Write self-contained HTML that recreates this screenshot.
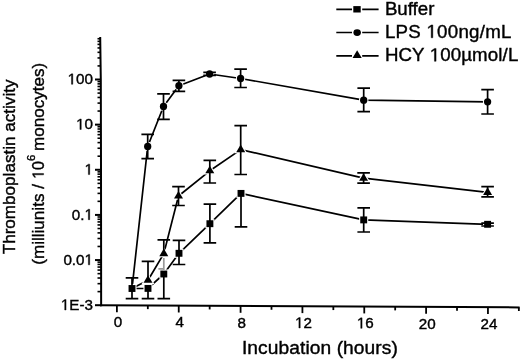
<!DOCTYPE html>
<html><head><meta charset="utf-8"><style>
html,body{margin:0;padding:0;background:#fff;width:520px;height:359px;overflow:hidden}
svg{display:block;filter:blur(0.35px)}
.t text{font-family:"Liberation Sans",sans-serif;white-space:pre}
.t{fill:#000;stroke:#000;stroke-width:0.4px}
</style></head><body>
<svg width="520" height="359" viewBox="0 0 520 359">
<rect width="520" height="359" fill="#fff"/>
<g stroke="#000" fill="none">
<path d="M100.2 37.1 L100.8 80 L101.0 170 L101.15 306.3" stroke-width="2"/>
<path d="M100.10 305.30 L519.60 307.40" stroke-width="2"/>
<path d="M101.15 305.20 H95" stroke-width="2"/>
<path d="M101.13 291.61 H97.5" stroke-width="1.6"/>
<path d="M101.13 283.66 H97.5" stroke-width="1.6"/>
<path d="M101.12 278.02 H97.5" stroke-width="1.6"/>
<path d="M101.11 273.65 H97.5" stroke-width="1.6"/>
<path d="M101.11 270.07 H97.5" stroke-width="1.6"/>
<path d="M101.11 267.05 H97.5" stroke-width="1.6"/>
<path d="M101.10 264.43 H97.5" stroke-width="1.6"/>
<path d="M101.10 262.13 H97.5" stroke-width="1.6"/>
<path d="M101.10 260.06 H95" stroke-width="2"/>
<path d="M101.08 246.47 H97.5" stroke-width="1.6"/>
<path d="M101.08 238.52 H97.5" stroke-width="1.6"/>
<path d="M101.07 232.88 H97.5" stroke-width="1.6"/>
<path d="M101.06 228.51 H97.5" stroke-width="1.6"/>
<path d="M101.06 224.93 H97.5" stroke-width="1.6"/>
<path d="M101.06 221.91 H97.5" stroke-width="1.6"/>
<path d="M101.05 219.29 H97.5" stroke-width="1.6"/>
<path d="M101.05 216.99 H97.5" stroke-width="1.6"/>
<path d="M101.05 214.92 H95" stroke-width="2"/>
<path d="M101.03 201.33 H97.5" stroke-width="1.6"/>
<path d="M101.03 193.38 H97.5" stroke-width="1.6"/>
<path d="M101.02 187.74 H97.5" stroke-width="1.6"/>
<path d="M101.01 183.37 H97.5" stroke-width="1.6"/>
<path d="M101.01 179.79 H97.5" stroke-width="1.6"/>
<path d="M101.01 176.77 H97.5" stroke-width="1.6"/>
<path d="M101.00 174.15 H97.5" stroke-width="1.6"/>
<path d="M101.00 171.85 H97.5" stroke-width="1.6"/>
<path d="M101.00 169.78 H95" stroke-width="2"/>
<path d="M100.97 156.19 H97.5" stroke-width="1.6"/>
<path d="M100.95 148.24 H97.5" stroke-width="1.6"/>
<path d="M100.94 142.60 H97.5" stroke-width="1.6"/>
<path d="M100.93 138.23 H97.5" stroke-width="1.6"/>
<path d="M100.92 134.65 H97.5" stroke-width="1.6"/>
<path d="M100.91 131.63 H97.5" stroke-width="1.6"/>
<path d="M100.91 129.01 H97.5" stroke-width="1.6"/>
<path d="M100.90 126.71 H97.5" stroke-width="1.6"/>
<path d="M100.90 124.64 H95" stroke-width="2"/>
<path d="M100.87 111.05 H97.5" stroke-width="1.6"/>
<path d="M100.85 103.10 H97.5" stroke-width="1.6"/>
<path d="M100.84 97.46 H97.5" stroke-width="1.6"/>
<path d="M100.83 93.09 H97.5" stroke-width="1.6"/>
<path d="M100.82 89.51 H97.5" stroke-width="1.6"/>
<path d="M100.81 86.49 H97.5" stroke-width="1.6"/>
<path d="M100.81 83.87 H97.5" stroke-width="1.6"/>
<path d="M100.80 81.57 H97.5" stroke-width="1.6"/>
<path d="M100.79 79.50 H95" stroke-width="2"/>
<path d="M100.60 65.91 H97.5" stroke-width="1.6"/>
<path d="M100.49 57.96 H97.5" stroke-width="1.6"/>
<path d="M100.41 52.32 H97.5" stroke-width="1.6"/>
<path d="M100.35 47.95 H97.5" stroke-width="1.6"/>
<path d="M100.30 44.37 H97.5" stroke-width="1.6"/>
<path d="M100.26 41.35 H97.5" stroke-width="1.6"/>
<path d="M100.22 38.73 H97.5" stroke-width="1.6"/>
<path d="M116.90 305.38 V312.18" stroke-width="1.8"/>
<path d="M147.82 305.53 V309.13" stroke-width="1.8"/>
<path d="M178.74 305.69 V312.49" stroke-width="1.8"/>
<path d="M209.66 305.84 V309.44" stroke-width="1.8"/>
<path d="M240.58 306.00 V312.80" stroke-width="1.8"/>
<path d="M271.50 306.16 V309.76" stroke-width="1.8"/>
<path d="M302.42 306.31 V313.11" stroke-width="1.8"/>
<path d="M333.34 306.47 V310.07" stroke-width="1.8"/>
<path d="M364.26 306.62 V313.42" stroke-width="1.8"/>
<path d="M395.18 306.78 V310.38" stroke-width="1.8"/>
<path d="M426.10 306.93 V313.73" stroke-width="1.8"/>
<path d="M457.02 307.09 V310.69" stroke-width="1.8"/>
<path d="M487.94 307.24 V314.04" stroke-width="1.8"/>
<path d="M518.86 307.40 V311.00" stroke-width="1.8"/>
</g>
<g class="t">
<text x="60.89" y="310.00" font-size="15.2"> E-3</text><path transform="translate(60.89 310.00) scale(0.00742 -0.00742)" vector-effect="non-scaling-stroke" d="M515 0V1237L197 1010V1180L530 1409H696V0Z"/>
<text x="63.42" y="264.86" font-size="15.2">0.0 </text><path transform="translate(84.55 264.86) scale(0.00742 -0.00742)" vector-effect="non-scaling-stroke" d="M515 0V1237L197 1010V1180L530 1409H696V0Z"/>
<text x="71.87" y="219.72" font-size="15.2">0. </text><path transform="translate(84.55 219.72) scale(0.00742 -0.00742)" vector-effect="non-scaling-stroke" d="M515 0V1237L197 1010V1180L530 1409H696V0Z"/>
<text x="84.55" y="174.58" font-size="15.2"> </text><path transform="translate(84.55 174.58) scale(0.00742 -0.00742)" vector-effect="non-scaling-stroke" d="M515 0V1237L197 1010V1180L530 1409H696V0Z"/>
<text x="76.09" y="129.44" font-size="15.2"> 0</text><path transform="translate(76.09 129.44) scale(0.00742 -0.00742)" vector-effect="non-scaling-stroke" d="M515 0V1237L197 1010V1180L530 1409H696V0Z"/>
<text x="67.64" y="84.30" font-size="15.2"> 00</text><path transform="translate(67.64 84.30) scale(0.00742 -0.00742)" vector-effect="non-scaling-stroke" d="M515 0V1237L197 1010V1180L530 1409H696V0Z"/>
<text x="113.77" y="327.08" font-size="15.2">0</text>
<text x="175.61" y="327.39" font-size="15.2">4</text>
<text x="237.45" y="327.70" font-size="15.2">8</text>
<text x="295.07" y="328.01" font-size="15.2"> 2</text><path transform="translate(295.07 328.01) scale(0.00742 -0.00742)" vector-effect="non-scaling-stroke" d="M515 0V1237L197 1010V1180L530 1409H696V0Z"/>
<text x="356.91" y="328.32" font-size="15.2"> 6</text><path transform="translate(356.91 328.32) scale(0.00742 -0.00742)" vector-effect="non-scaling-stroke" d="M515 0V1237L197 1010V1180L530 1409H696V0Z"/>
<text x="418.75" y="328.63" font-size="15.2">20</text>
<text x="480.59" y="328.94" font-size="15.2">24</text>
<text x="241.90" y="353.90" font-size="19.2" letter-spacing="0.08">Incubation (hours)</text>
<g transform="translate(14.6 254.3) rotate(-90)"><text x="0.00" y="0.00" font-size="17.1">Thromboplastin activity</text></g>
<g transform="translate(43.6 264.8) rotate(-90)"><text x="0.00" y="0.00" font-size="17.1">(milliunits / </text><text x="85.91" y="0.00" font-size="16"> 0</text><path transform="translate(85.91 0.00) scale(0.00781 -0.00781)" vector-effect="non-scaling-stroke" d="M515 0V1237L197 1010V1180L530 1409H696V0Z"/><text x="103.81" y="-8.40" font-size="11.4">6</text><text x="108.95" y="0.00" font-size="17.1"> monocytes)</text></g>
<text x="384.90" y="15.10" font-size="18.7">Buffer</text>
<text x="384.90" y="37.80" font-size="18.7" letter-spacing="0.26">LPS  00ng/mL</text><path transform="translate(426.48 37.80) scale(0.00913 -0.00913)" vector-effect="non-scaling-stroke" d="M515 0V1237L197 1010V1180L530 1409H696V0Z"/>
<text x="384.90" y="61.30" font-size="18.7" letter-spacing="0.12">HCY  00µmol/L</text><path transform="translate(429.72 61.30) scale(0.00913 -0.00913)" vector-effect="non-scaling-stroke" d="M515 0V1237L197 1010V1180L530 1409H696V0Z"/>
</g>
<g stroke="#000" stroke-width="1.6">
<path d="M336.3 9.4 H352 M362.2 9.4 H378.6"/>
<path d="M336.3 32.55 H352 M362.2 32.55 H378.6"/>
<path d="M336.3 55.9 H352 M362.2 55.9 H378.6"/>
</g>
<g fill="#000">
<rect x="353.30" y="6.10" width="7.4" height="6.4"/>
<ellipse cx="357.15" cy="32.55" rx="3.75" ry="3.4"/>
<path d="M357.15 50.33 L361.75 57.93 L352.55 57.93Z"/>
</g>
<g stroke="#000" fill="none" stroke-width="1.7" stroke-linejoin="round">
<path d="M132.00 288.50 L148.00 288.40 L163.80 274.00 L179.00 253.30 L209.90 223.70 L241.00 193.40 L363.70 219.90 L487.60 224.30"/>
<path d="M132.00 288.50 L147.70 146.50 L163.50 106.50 L178.90 85.70 L209.60 74.00 L240.60 78.50 L363.70 100.20 L487.60 101.80"/>
<path d="M132.00 288.50 L148.00 280.30 L163.80 253.60 L178.50 196.00 L209.80 170.80 L240.70 149.60 L363.60 178.20 L487.60 192.40"/>
</g>
<g fill="#000" stroke="#fff" stroke-width="2.2" paint-order="stroke">
<rect x="128.55" y="285.05" width="6.9" height="6.9"/>
<rect x="144.55" y="284.95" width="6.9" height="6.9"/>
<rect x="160.35" y="270.55" width="6.9" height="6.9"/>
<rect x="175.55" y="249.85" width="6.9" height="6.9"/>
<rect x="206.45" y="220.25" width="6.9" height="6.9"/>
<rect x="237.55" y="189.95" width="6.9" height="6.9"/>
<rect x="360.25" y="216.45" width="6.9" height="6.9"/>
<rect x="484.15" y="220.85" width="6.9" height="6.9"/>
<circle cx="147.70" cy="146.50" r="3.65"/>
<circle cx="163.50" cy="106.50" r="3.65"/>
<circle cx="178.90" cy="85.70" r="3.65"/>
<circle cx="209.60" cy="74.00" r="3.65"/>
<circle cx="240.60" cy="78.50" r="3.65"/>
<circle cx="363.70" cy="100.20" r="3.65"/>
<circle cx="487.60" cy="101.80" r="3.65"/>
<path d="M148.00 275.23 L152.50 282.83 L143.50 282.83Z"/>
<path d="M163.80 248.53 L168.30 256.13 L159.30 256.13Z"/>
<path d="M178.50 190.93 L183.00 198.53 L174.00 198.53Z"/>
<path d="M209.80 165.73 L214.30 173.33 L205.30 173.33Z"/>
<path d="M240.70 144.53 L245.20 152.13 L236.20 152.13Z"/>
<path d="M363.60 173.13 L368.10 180.73 L359.10 180.73Z"/>
<path d="M487.60 187.33 L492.10 194.93 L483.10 194.93Z"/>
</g>
<g stroke="#000" fill="none" stroke-width="1.7">
<path d="M132.00 288.50 V277.80 M125.70 277.80 H138.30"/>
<path d="M132.00 288.50 V298.60 M125.70 298.60 H138.30"/>
<path d="M148.00 288.40 V298.70 M141.70 298.70 H154.30"/>
<path d="M163.80 274.00 V298.70 M157.50 298.70 H170.10"/>
<path d="M179.00 253.30 V240.30 M172.70 240.30 H185.30"/>
<path d="M179.00 253.30 V264.50 M172.70 264.50 H185.30"/>
<path d="M209.90 223.70 V204.20 M203.60 204.20 H216.20"/>
<path d="M209.90 223.70 V242.80 M203.60 242.80 H216.20"/>
<path d="M241.00 193.40 V226.80 M234.70 226.80 H247.30"/>
<path d="M363.70 219.90 V207.80 M357.40 207.80 H370.00"/>
<path d="M363.70 219.90 V232.00 M357.40 232.00 H370.00"/>
<path d="M487.60 224.30 V223.20 M481.30 223.20 H493.90"/>
<path d="M487.60 224.30 V226.00 M481.30 226.00 H493.90"/>
<path d="M147.70 146.50 V134.30 M141.40 134.30 H154.00"/>
<path d="M147.70 146.50 V158.60 M141.40 158.60 H154.00"/>
<path d="M163.50 106.50 V93.90 M157.20 93.90 H169.80"/>
<path d="M163.50 106.50 V119.30 M157.20 119.30 H169.80"/>
<path d="M178.90 85.70 V80.30 M172.60 80.30 H185.20"/>
<path d="M178.90 85.70 V91.30 M172.60 91.30 H185.20"/>
<path d="M209.60 74.00 V72.30 M203.30 72.30 H215.90"/>
<path d="M209.60 74.00 V75.40 M203.30 75.40 H215.90"/>
<path d="M240.60 78.50 V69.20 M234.30 69.20 H246.90"/>
<path d="M240.60 78.50 V87.50 M234.30 87.50 H246.90"/>
<path d="M363.70 100.20 V88.10 M357.40 88.10 H370.00"/>
<path d="M363.70 100.20 V111.70 M357.40 111.70 H370.00"/>
<path d="M487.60 101.80 V89.70 M481.30 89.70 H493.90"/>
<path d="M487.60 101.80 V114.00 M481.30 114.00 H493.90"/>
<path d="M148.00 280.30 V261.40 M141.70 261.40 H154.30"/>
<path d="M163.80 253.60 V239.80 M157.50 239.80 H170.10"/>
<path d="M178.50 196.00 V186.70 M172.20 186.70 H184.80"/>
<path d="M178.50 196.00 V205.50 M172.20 205.50 H184.80"/>
<path d="M209.80 170.80 V160.30 M203.50 160.30 H216.10"/>
<path d="M209.80 170.80 V183.00 M203.50 183.00 H216.10"/>
<path d="M240.70 149.60 V125.60 M234.40 125.60 H247.00"/>
<path d="M240.70 149.60 V174.50 M234.40 174.50 H247.00"/>
<path d="M363.60 178.20 V172.90 M357.30 172.90 H369.90"/>
<path d="M363.60 178.20 V183.20 M357.30 183.20 H369.90"/>
<path d="M487.60 192.40 V186.60 M481.30 186.60 H493.90"/>
<path d="M487.60 192.40 V196.90 M481.30 196.90 H493.90"/>
<path d="M163.8 271 V258 M158.4 268.8 H163.8" stroke="#999"/>
</g>
</svg>
</body></html>
